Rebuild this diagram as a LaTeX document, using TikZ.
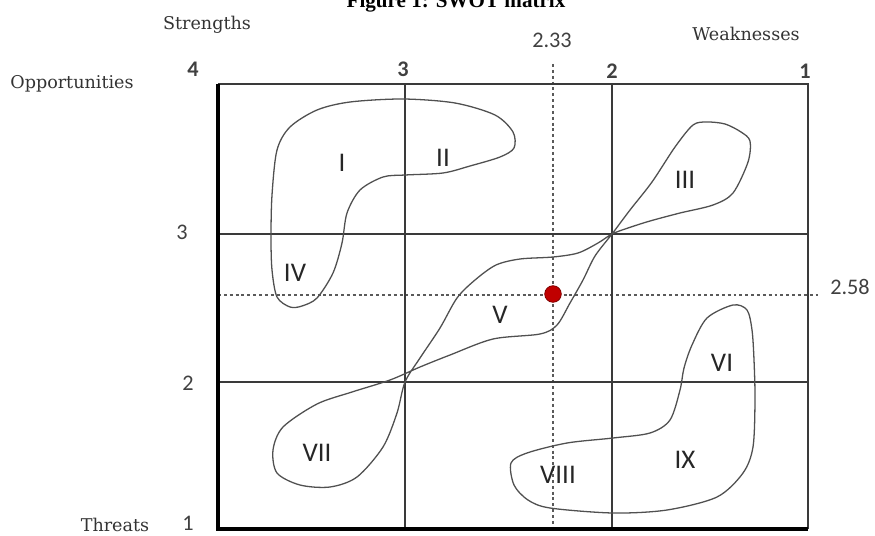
\documentclass[tikz,border=0pt]{standalone}
\usepackage{fontspec}
\setmainfont{DejaVu Serif}
\newfontfamily\numfont{Carlito}
\newfontfamily\capfont{Liberation Serif}
\usetikzlibrary{positioning}
\definecolor{gridgray}{HTML}{3A3A3A}
\definecolor{blobgray}{HTML}{505050}
\definecolor{guidegray}{HTML}{5A5A5A}
\definecolor{dotred}{HTML}{C00000}
\definecolor{dotedge}{HTML}{7A0000}

\begin{document}
\begin{tikzpicture}[
  x=0.03cm,y=-0.03cm,
  axislabel/.style={font=\fontsize{15}{15}\selectfont,text=black!80,inner sep=0pt},
  tick/.style={font=\numfont\fontsize{19}{19}\selectfont,text=black!75,inner sep=0pt},
  toptick/.style={tick,font=\numfont\bfseries\fontsize{19}{19}\selectfont},
  zone/.style={font=\numfont\fontsize{23}{23}\selectfont,text=black!85,inner sep=0pt},
  gridline/.style={draw=gridgray,line width=1.2pt},
  heavy/.style={draw=black,line width=3.4pt},
  blob/.style={draw=blobgray,line width=1.1pt},
  guide/.style={draw=guidegray,line width=1.3pt,dash pattern=on 2.5pt off 2.5pt},
  mark dot/.style={circle,fill=dotred,draw=dotedge,line width=0.6pt,minimum size=0.5cm,inner sep=0pt}
]
\useasboundingbox (0,0) rectangle (875,535);
\node[font=\capfont\bfseries\fontsize{18}{18}\selectfont,anchor=base] (title) at (456,8) {Figure 1: SWOT matrix};
\node[axislabel] (str) at (207,25) {Strengths};
\node[axislabel] (weak) at (746,34) {Weaknesses};
\node[axislabel] (opp) at (72,84) {Opportunities};
\node[axislabel] (thr) at (115,525) {Threats};
\node[toptick] (x4) at (193,69) {4};
\node[toptick] (x3) at (403,69) {3};
\node[toptick] (x2) at (612,71) {2};
\node[toptick] (x1) at (805,71) {1};
\node[tick] (y3) at (182,232) {3};
\node[tick] (y2) at (188,383) {2};
\node[tick] (y1) at (188,523) {1};
\node[tick] (xm) at (552,40) {2.33};
\node[tick] (ym) at (850,287) {2.58};
\coordinate (nw) at (218,84);
\coordinate (ne) at (808,84);
\coordinate (sw) at (218,529);
\coordinate (se) at (808,529);
\coordinate (c3) at (405,84);
\coordinate (c2) at (612,84);
\coordinate (r3) at (218,234);
\coordinate (r2) at (218,382);
\coordinate (gtop) at (553,64);
\coordinate (gleft) at (218,295);
\coordinate (gright) at (818,295);
\draw[guide] (gtop) -- (gtop|-sw);
\draw[guide] (gleft) -- (gright);
\draw[gridline] (c3) -- (c3|-sw);
\draw[gridline] (c2) -- (c2|-sw);
\draw[gridline] (r3) -- (r3-|se);
\draw[gridline] (r2) -- (r2-|se);
\draw[gridline] (nw) -- (ne) -- (se);
\draw[blob] plot[smooth cycle] coordinates {(290,307) (277,297) (272,270) (271,237) (272,195) (277,150) (290,127) (317,110) (350,102) (403,99) (455,103) (495,115) (513,132) (514,148) (500,157) (470,166) (443,173) (405,175) (383,177) (360,190) (347,213) (342,243) (333,273) (317,298) (302,306)};
\draw[blob] plot[smooth cycle] coordinates {(693,125) (707,122) (725,124) (741,132) (750,141) (748,162) (733,193) (713,205) (680,213) (650,221) (628,228) (612,234) (598,243) (578,253) (553,257) (520,259) (496,265) (475,280) (457,298) (440,328) (420,358) (405,382) (397,413) (383,447) (357,477) (330,487) (300,485) (277,473) (273,450) (283,427) (317,404) (352,392) (390,380) (420,367) (450,355) (493,339) (540,334) (557,325) (570,303) (583,280) (595,256) (612,234) (630,210) (652,182) (675,147)};
\draw[blob] plot[smooth cycle] coordinates {(733,305) (747,310) (752,330) (754,360) (755,400) (753,447) (743,473) (717,497) (667,510) (613,513) (550,508) (528,500) (514,485) (511,463) (527,453) (567,443) (613,438) (650,433) (670,420) (680,390) (684,368) (692,345) (707,318)};
\draw[heavy] (nw) -- (sw) -- (se);
\node[zone] (zI) at (342,163) {I};
\node[zone] (zII) at (443,158) {II};
\node[zone] (zIII) at (685,180) {III};
\node[zone] (zIV) at (295,273) {IV};
\node[zone] (zV) at (500,315) {V};
\node[zone] (zVI) at (722,363) {VI};
\node[zone] (zVII) at (317,453) {VII};
\node[zone] (zVIII) at (558,475) {VIII};
\node[zone] (zIX) at (685,460) {IX};
\node[mark dot] (pos) at (553,294) {};
\end{tikzpicture}
\end{document}
